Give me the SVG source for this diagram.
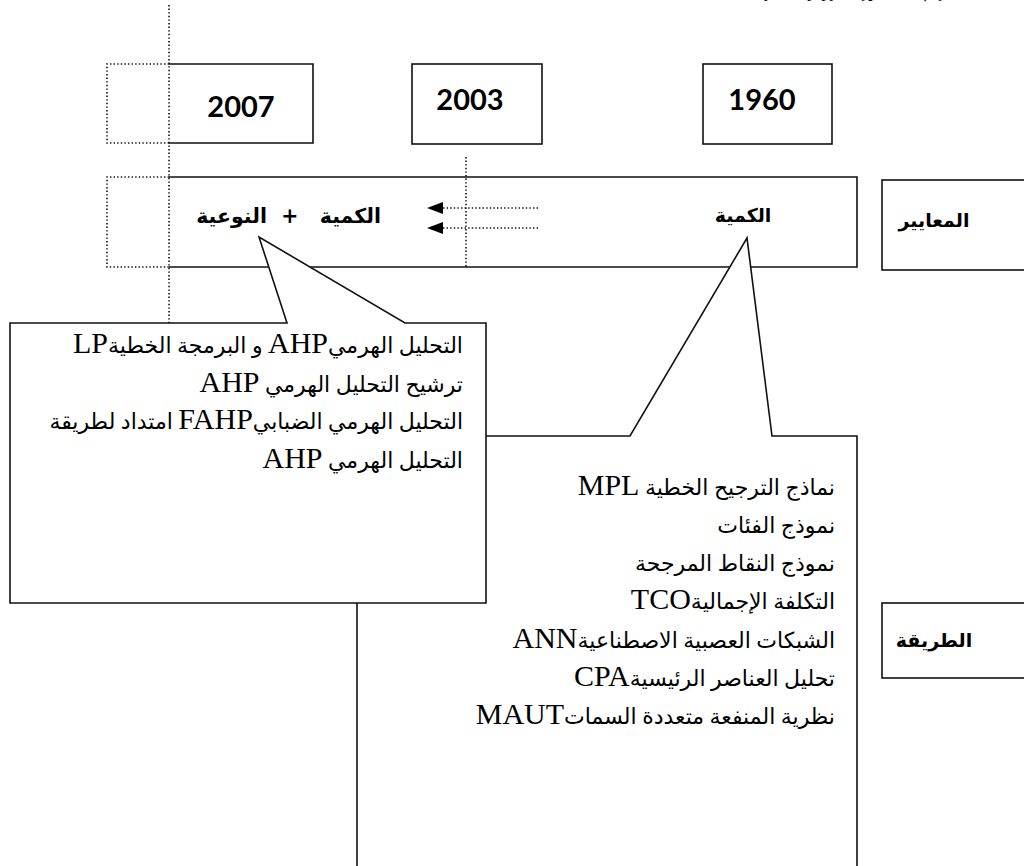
<svg xmlns="http://www.w3.org/2000/svg" width="1024" height="866" viewBox="0 0 1024 866">
  <defs>
    <style>
      .box { fill: none; stroke: #111; stroke-width: 1.6; }
      .dot { fill: none; stroke: #111; stroke-width: 1.6; stroke-dasharray: 1.4 2.2; }
      .call { fill: #fff; stroke: #111; stroke-width: 1.6; stroke-linejoin: miter; }
      .year { font-family: Lato, "Open Sans", sans-serif; font-weight: 700; font-size: 29px; fill: #000; text-anchor: middle; }
      .head { font-family: "DejaVu Sans", sans-serif; font-weight: 700; font-size: 19px; fill: #000; }
      .item { font-family: "Liberation Serif", "DejaVu Sans", serif; font-size: 22px; fill: #000; }
      .lat { font-size: 30px; }
    </style>
    <!-- filled head, base sits on the line end and the tip points along it -->
    <marker id="tri" markerWidth="16" markerHeight="12" refX="0" refY="6" orient="auto" markerUnits="userSpaceOnUse">
      <path d="M0,0 L16,6 L0,12 Z" fill="#000"/>
    </marker>
  </defs>

  <rect width="1024" height="866" fill="#fff"/>

  <!-- caption line, running off the top edge -->
  <text x="990" y="-4" direction="rtl" text-anchor="start" textLength="225" lengthAdjust="spacingAndGlyphs" style="font-family:'DejaVu Sans',sans-serif;font-size:22px;fill:#000">الشكل رقم 02: تطور الطرق والمعايير</text>

  <!-- timeline guides -->
  <g id="guides">
    <line class="dot" x1="169" y1="5" x2="169" y2="325"/>
    <line class="dot" x1="466" y1="157" x2="466" y2="267"/>
    <path class="dot" d="M169,64 H107 V143 H169"/>
    <path class="dot" d="M169,177 H107 V267 H169"/>
  </g>

  <!-- year boxes -->
  <g id="year-2007">
    <path class="box" d="M169,64 H313 V143 H169"/>
    <text class="year" x="241" y="117">2007</text>
  </g>
  <g id="year-2003">
    <rect class="box" x="412" y="64" width="130" height="80"/>
    <text class="year" x="470" y="110">2003</text>
  </g>
  <g id="year-1960">
    <rect class="box" x="703" y="64" width="129" height="80"/>
    <text class="year" x="762" y="110">1960</text>
  </g>

  <!-- criteria row -->
  <g id="criteria-row">
    <path class="box" d="M169,177 H857 V267 H169"/>
  </g>
  <g id="criteria-label">
    <rect class="box" x="882" y="180" width="150" height="90"/>
    <text class="head" x="934" y="227" text-anchor="middle">المعايير</text>
  </g>

  <!-- shift arrows -->
  <g id="connectors">
    <line class="dot" x1="538" y1="208" x2="443" y2="208" marker-end="url(#tri)"/>
    <line class="dot" x1="538" y1="228" x2="443" y2="228" marker-end="url(#tri)"/>
  </g>

  <!-- methods label -->
  <g id="method-label">
    <rect class="box" x="882" y="603" width="150" height="75"/>
    <text class="head" x="934" y="647" text-anchor="middle">الطريقة</text>
  </g>

  <!-- quantitative methods callout -->
  <g id="quant-methods">
    <path class="call" d="M357,436 H630 L747,238 L772,436 H857 V880 H357 Z"/>
    <g class="item" direction="rtl" text-anchor="start">
      <text x="835" y="495">نماذج الترجيح الخطية <tspan class="lat">MPL</tspan></text>
      <text x="835" y="533">نموذج الفئات</text>
      <text x="835" y="571">نموذج النقاط المرجحة</text>
      <text x="835" y="609">التكلفة الإجمالية<tspan class="lat">TCO</tspan></text>
      <text x="835" y="648">الشبكات العصبية الاصطناعية<tspan class="lat">ANN</tspan></text>
      <text x="835" y="686">تحليل العناصر الرئيسية<tspan class="lat">CPA</tspan></text>
      <text x="835" y="724">نظرية المنفعة متعددة السمات<tspan class="lat">MAUT</tspan></text>
    </g>
  </g>

  <!-- mixed methods callout -->
  <g id="mixed-methods">
    <path class="call" d="M10,323 H287 L259,237 L405,323 H486 V603 H10 Z"/>
    <g class="item" direction="rtl" text-anchor="start">
      <text x="463" y="353">التحليل الهرمي<tspan class="lat">AHP</tspan> و البرمجة الخطية<tspan class="lat">LP</tspan></text>
      <text x="463" y="392">ترشيح التحليل الهرمي <tspan class="lat">AHP</tspan></text>
      <text x="463" y="429">التحليل الهرمي الضبابي<tspan class="lat">FAHP</tspan> امتداد لطريقة</text>
      <text x="463" y="468">التحليل الهرمي <tspan class="lat">AHP</tspan></text>
    </g>
  </g>

  <!-- row headings -->
  <g id="criteria-text">
    <text class="head" x="743" y="222" text-anchor="middle">الكمية</text>
    <text class="head" x="381" y="223" direction="rtl" text-anchor="start" style="font-size:20.5px">الكمية&#160;&#160;&#160;+&#160;&#160;النوعية</text>
  </g>
</svg>
